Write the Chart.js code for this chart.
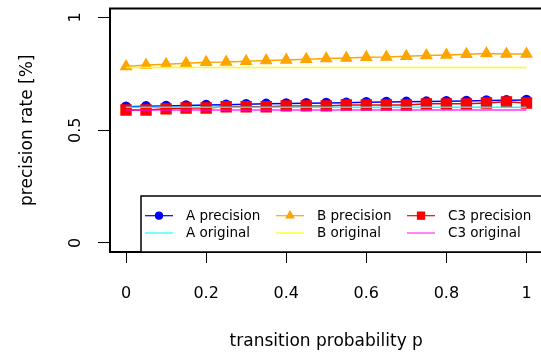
<!DOCTYPE html>
<html>
<head>
<meta charset="UTF-8">
<script src="https://cdn.jsdelivr.net/npm/chart.js"></script>
<style>
  html, body { margin: 0; padding: 0; background: #fff; overflow: hidden; }
  #wrap { width: 551px; height: 353px; }
</style>
</head>
<body>
<div id="wrap"><canvas id="chart" width="551" height="353"></canvas></div>
<script>
// transition probability p
const p = [0, 0.05, 0.1, 0.15, 0.2, 0.25, 0.3, 0.35, 0.4, 0.45, 0.5,
           0.55, 0.6, 0.65, 0.7, 0.75, 0.8, 0.85, 0.9, 0.95, 1];
const aPrecision = [0.604, 0.606, 0.608, 0.610, 0.612, 0.613, 0.615, 0.617, 0.619, 0.620, 0.621,
                    0.622, 0.624, 0.625, 0.626, 0.627, 0.629, 0.630, 0.632, 0.633, 0.634];
const bPrecision = [0.783, 0.789, 0.793, 0.797, 0.802, 0.803, 0.806, 0.809, 0.812, 0.815, 0.818,
                    0.821, 0.824, 0.825, 0.828, 0.831, 0.834, 0.837, 0.840, 0.838, 0.838];
const c3Precision = [0.590, 0.590, 0.595, 0.599, 0.599, 0.604, 0.604, 0.604, 0.608, 0.608, 0.608,
                     0.612, 0.612, 0.612, 0.612, 0.617, 0.617, 0.617, 0.621, 0.626, 0.621];
// original (baseline) levels, drawn from p=0 to p=1
const pOrig = [0, 1];
const aOriginal = [0.602, 0.602];
const bOriginal = [0.778, 0.778];
const c3Original = [0.590, 0.590];

const xTicks = [0, 0.2, 0.4, 0.6, 0.8, 1];
const yTicks = [0, 0.5, 1];

const FONT = "'DejaVu Sans', 'Liberation Sans', Arial, sans-serif";

function pts(xs, ys) {
  return xs.map((x, i) => ({ x: x, y: ys[i] }));
}

// black frame round the plot region
const boxPlugin = {
  id: 'box',
  afterDatasetsDraw(chart) {
    const a = chart.chartArea, ctx = chart.ctx;
    ctx.save();
    ctx.strokeStyle = '#000';
    ctx.lineWidth = 2;
    ctx.strokeRect(a.left, a.top, a.right - a.left, a.bottom - a.top);
    ctx.restore();
  }
};

// R style legend box, 3 columns, bottom right of the plot
const legendPlugin = {
  id: 'rlegend',
  afterDraw(chart) {
    const ctx = chart.ctx, a = chart.chartArea;
    const left = 141, top = 196;
    ctx.save();
    ctx.fillStyle = '#fff';
    ctx.fillRect(left, top, a.right - left, a.bottom - top);
    ctx.strokeStyle = '#000';
    ctx.lineWidth = 1.5;
    ctx.strokeRect(left, top, a.right - left, a.bottom - top);

    const colX = [145, 276, 407];
    const rowY = [215.7, 233];
    ctx.font = '13.5px ' + FONT;
    ctx.textBaseline = 'middle';
    ctx.textAlign = 'left';
    chart.data.datasets.forEach(ds => {
      const x = colX[ds.legendCol], y = rowY[ds.legendRow];
      ctx.strokeStyle = ds.borderColor;
      ctx.lineWidth = 1.2;
      ctx.beginPath();
      ctx.moveTo(x, y);
      ctx.lineTo(x + 28, y);
      ctx.stroke();
      if (ds.pointRadius > 0) {
        Chart.helpers.drawPoint(ctx, {
          pointStyle: ds.pointStyle,
          radius: ds.legendRadius,
          borderWidth: 1
        }, x + 14, y);
        ctx.fillStyle = ds.borderColor;
        ctx.fill();
      }
      ctx.fillStyle = '#000';
      ctx.fillText(ds.label, x + 41, y + 0.5);
    });
    ctx.restore();
  }
};

new Chart(document.getElementById('chart'), {
  type: 'line',
  data: {
    datasets: [
      { label: 'A precision', data: pts(p, aPrecision), borderColor: '#0000ff', backgroundColor: '#0000ff',
        pointStyle: 'circle', pointRadius: 4.5, borderWidth: 1.5, order: 3, legendCol: 0, legendRow: 0, legendRadius: 3.5 },
      { label: 'A original', data: pts(pOrig, aOriginal), borderColor: 'rgba(0,255,255,0.9)', backgroundColor: '#00ffff',
        pointRadius: 0, borderWidth: 1.5, order: 0, legendCol: 0, legendRow: 1 },
      { label: 'B precision', data: pts(p, bPrecision), borderColor: '#ffa500', backgroundColor: '#ffa500',
        pointStyle: 'triangle', pointRadius: 6, borderWidth: 1.5, order: 2, legendCol: 1, legendRow: 0, legendRadius: 4.5 },
      { label: 'B original', data: pts(pOrig, bOriginal), borderColor: '#ffff00', backgroundColor: '#ffff00',
        pointRadius: 0, borderWidth: 1.5, order: 0, legendCol: 1, legendRow: 1 },
      { label: 'C3 precision', data: pts(p, c3Precision), borderColor: '#ff0000', backgroundColor: '#ff0000',
        pointStyle: 'rect', pointRadius: 7, borderWidth: 1.5, order: 1, legendCol: 2, legendRow: 0, legendRadius: 5 },
      { label: 'C3 original', data: pts(pOrig, c3Original), borderColor: 'rgba(255,0,255,0.8)', backgroundColor: '#ff00ff',
        pointRadius: 0, borderWidth: 1.5, order: 0, legendCol: 2, legendRow: 1 }
    ]
  },
  options: {
    responsive: false,
    animation: false,
    events: [],
    layout: { padding: { top: 7, right: 3, left: 0, bottom: 0 } },
    elements: { point: { borderWidth: 0, hoverRadius: 0 }, line: { tension: 0 } },
    plugins: { legend: { display: false }, tooltip: { enabled: false } },
    scales: {
      x: {
        type: 'linear',
        min: -0.04, max: 1.04,
        afterBuildTicks: s => { s.ticks = xTicks.map(v => ({ value: v })); },
        afterFit: s => { s.height = 101; s.paddingLeft = 0; s.paddingRight = 0; },
        grid: { drawOnChartArea: false, drawTicks: true, tickLength: 11, color: '#000', lineWidth: 1 },
        border: { display: false },
        ticks: { color: '#000', font: { family: FONT, size: 16 }, padding: 21, maxRotation: 0,
                 callback: v => String(v) },
        title: { display: true, text: 'transition probability p', color: '#000',
                 font: { family: FONT, size: 17 }, padding: { top: 0, bottom: 1 } }
      },
      y: {
        min: -0.04, max: 1.04,
        afterBuildTicks: s => { s.ticks = yTicks.map(v => ({ value: v })); },
        afterFit: s => { s.width = 110; s.paddingTop = 0; s.paddingBottom = 0; },
        grid: { drawOnChartArea: false, drawTicks: true, tickLength: 12, color: '#000', lineWidth: 1 },
        border: { display: false },
        ticks: { color: '#000', font: { family: FONT, size: 16 }, padding: 9,
                 minRotation: 90, maxRotation: 90, crossAlign: 'center',
                 callback: v => String(v) },
        title: { display: true, text: 'precision rate [%]', color: '#000',
                 font: { family: FONT, size: 17 }, padding: { top: 17, bottom: 0 } }
      }
    }
  },
  plugins: [boxPlugin, legendPlugin]
});
</script>
</body>
</html>
